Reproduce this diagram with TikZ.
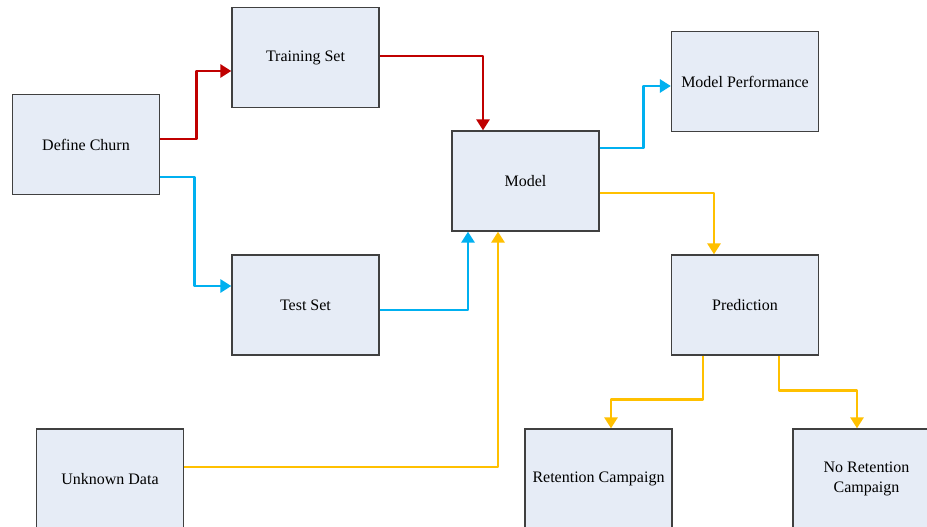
\documentclass[tikz,border=0pt]{standalone}
\usepackage{fontspec}
\setmainfont{Liberation Serif}
\usetikzlibrary{arrows.meta}
\definecolor{boxfill}{HTML}{E6ECF6}
\definecolor{boxdraw}{HTML}{404040}
\definecolor{cred}{HTML}{C00000}
\definecolor{cblue}{HTML}{00B0F0}
\definecolor{cyel}{HTML}{FFC000}
\tikzset{
  stepbox/.style={draw=boxdraw, fill=boxfill, line width=1.3pt, minimum width=147pt, minimum height=100pt, inner sep=0pt, align=center, font=\fontsize{16}{20}\selectfont},
  conn/.style={line width=2.8pt, line join=round, -{Triangle[length=11pt,width=13pt]}},
  redline/.style={conn, cred},
  blueline/.style={conn, cblue},
  yelline/.style={conn, cyel}
}
\begin{document}
\begin{tikzpicture}[x=1pt,y=-1pt]
\useasboundingbox (0,0) rectangle (927,527);
\clip (0,0) rectangle (927,527);
\fill[white] (0,0) rectangle (927,527);
\node[stepbox] (churn) at (86,144.5) {Define Churn};
\node[stepbox] (train) at (305.5,57.5) {Training Set};
\node[stepbox] (model) at (525.5,181) {Model};
\node[stepbox] (perf) at (745,81.5) {Model Performance};
\node[stepbox] (test) at (305.5,305) {Test Set};
\node[stepbox] (pred) at (745,305) {Prediction};
\node[stepbox] (unk) at (110,479) {Unknown Data};
\node[stepbox] (ret) at (598.5,479) {Retention Campaign};
\node[stepbox] (noret) at (866.5,479) {No Retention\\Campaign};
\draw[redline] ([yshift=5.5pt]churn.east) -- ++(36,0) |- ([yshift=-13.5pt]train.west);
\draw[redline] ([yshift=1.5pt]train.east) -| ([xshift=-42.5pt]model.north);
\draw[blueline] ([yshift=-32.5pt]churn.east) -- ++(34,0) |- ([yshift=19pt]test.west);
\draw[blueline] ([yshift=-5pt]test.east) -| ([xshift=-57.5pt]model.south);
\draw[yelline] ([yshift=12pt]unk.east) -| ([xshift=-27.5pt]model.south);
\draw[blueline] ([yshift=33pt]model.east) -- ++(44,0) |- ([yshift=-4.5pt]perf.west);
\draw[yelline] ([yshift=-12pt]model.east) -| ([xshift=-31pt]pred.north);
\draw[yelline] ([xshift=-42pt]pred.south) -- ++(0,44) -| ([xshift=12.5pt]ret.north);
\draw[yelline] ([xshift=34pt]pred.south) -- ++(0,35) -| ([xshift=-9.5pt]noret.north);
\end{tikzpicture}
\end{document}
